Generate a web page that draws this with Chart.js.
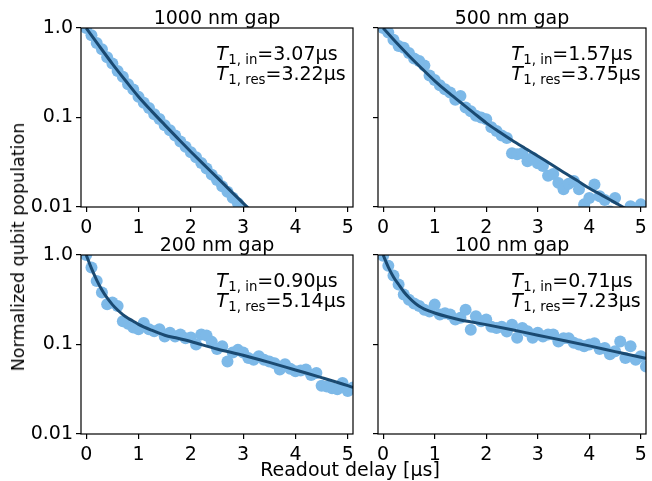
<!DOCTYPE html>
<html>
<head>
<meta charset="utf-8">
<script src="https://cdn.jsdelivr.net/npm/chart.js@4.4.1/dist/chart.umd.min.js"></script>
<style>
  body { margin: 0; background: #fff; }
  #wrap { position: relative; width: 652px; height: 481px; font-family: 'DejaVu Sans'; }
  canvas { position: absolute; left: 0; top: 0; }
  .lab { position: absolute; font-size: 19px; color: #000; white-space: nowrap; }
  #ylab { left: 18px; top: 247px; font-size: 17.5px; transform: translate(-50%, -50%) rotate(-90deg); }
  #xlab { left: 350px; top: 469px; transform: translate(-50%, -50%); }
</style>
</head>
<body>
<div id="wrap">
  <canvas id="p1" width="652" height="481"></canvas>
  <canvas id="p2" width="652" height="481"></canvas>
  <canvas id="p3" width="652" height="481"></canvas>
  <canvas id="p4" width="652" height="481"></canvas>
  <div class="lab" id="ylab">Normalized qubit population</div>
  <div class="lab" id="xlab">Readout delay [µs]</div>
</div>
<script>
// measured delays (µs)
const delays = [0,0.1,0.2,0.3,0.4,0.5,0.6,0.7,0.8,0.9,1.0,1.1,1.2,1.3,1.4,1.5,1.6,1.7,1.8,1.9,
  2.0,2.1,2.2,2.3,2.4,2.5,2.6,2.7,2.8,2.9,3.0,3.1,3.2,3.3,3.4,3.5,3.6,3.7,3.8,3.9,
  4.0,4.1,4.2,4.3,4.4,4.5,4.6,4.7,4.8,4.9,5.0,5.1];

// measured populations
const pop1000 = [1.0,0.83,0.68,0.58,0.47,0.40,0.33,0.285,0.235,0.205,0.17,0.146,0.128,0.109,0.096,0.082,
  0.072,0.063,0.054,0.047,0.041,0.036,0.031,0.027,0.023,0.020,0.017,0.0148,0.0127,0.0110,0.0094];
const pop500 = [1.0,0.891,0.741,0.631,0.603,0.525,0.457,0.427,0.380,0.295,0.263,0.229,0.2065,0.1905,0.158,0.174,
  0.129,0.1175,0.1047,0.100,0.0955,0.0776,0.0708,0.0631,0.0589,0.0398,0.0389,0.0398,0.0324,0.0355,0.0309,0.0288,
  0.0224,0.0234,0.0186,0.0158,0.0182,0.0195,0.0158,0.0107,0.0126,0.0178,0.0132,0.0120,0.0089,0.0126,0.0083,0.0079,
  0.0102,0.0071,0.0107,0.0079];
const pop200 = [1.0,0.724,0.513,0.380,0.282,0.295,0.269,0.182,0.170,0.155,0.148,0.174,0.148,0.141,0.148,0.123,
  0.135,0.123,0.129,0.1175,0.120,0.100,0.129,0.126,0.107,0.0891,0.0955,0.0646,0.0813,0.0871,0.0813,0.0708,
  0.0676,0.0741,0.0676,0.0646,0.0617,0.0525,0.0603,0.0537,0.0501,0.0513,0.0525,0.0457,0.0479,0.0347,0.0339,0.0324,
  0.0316,0.0372,0.0302,0.0331];
const pop100 = [0.98,0.759,0.589,0.468,0.363,0.316,0.288,0.269,0.245,0.234,0.279,0.216,0.224,0.216,0.1905,0.1995,
  0.245,0.146,0.2065,0.182,0.1905,0.158,0.153,0.158,0.140,0.166,0.119,0.153,0.141,0.119,0.135,0.123,
  0.129,0.129,0.108,0.1175,0.1175,0.1047,0.100,0.0955,0.100,0.1035,0.0891,0.0912,0.0776,0.0841,0.108,0.0708,
  0.0955,0.0676,0.0741,0.0569];

// fit curves
const fit1Delay = [0,0.25,0.5,0.75,1,1.25,1.5,1.75,2,2.25,2.5,2.75,3,3.25];
const fit1Pop = [1.0,0.627,0.398,0.259,0.1706,0.1178,0.0828,0.0585,0.0415,0.0297,0.0214,0.01535,0.01104,0.0079];
const fit2Delay = [0,0.25,0.5,0.75,1,1.25,1.5,1.75,2,2.25,2.5,2.75,3,3.25,3.5,3.75,4,4.25,4.5,4.75,5,5.1];
const fit2Pop = [1.0,0.692,0.490,0.353,0.257,0.193,0.148,0.1135,0.0871,0.0692,0.0556,0.0454,0.0372,0.0302,
  0.0245,0.0200,0.0162,0.0135,0.0112,0.0093,0.0078,0.0072];
const fit3Delay = [0,0.1,0.2,0.3,0.4,0.5,0.6,0.7,0.8,0.9,1.0,1.25,1.5,1.75,2.0,2.5,3.0,3.5,4.0,4.5,5.0,5.1];
const fit3Pop = [1.0,0.708,0.525,0.407,0.331,0.279,0.2427,0.216,0.197,0.182,0.168,0.1445,0.127,0.1175,0.108,
  0.0891,0.0759,0.0631,0.0519,0.0427,0.0347,0.0331];
const fit4Delay = [0,0.1,0.2,0.3,0.4,0.5,0.6,0.7,0.8,0.9,1.0,1.25,1.5,1.75,2.0,2.5,3.0,3.5,4.0,4.5,5.0,5.1];
const fit4Pop = [1.0,0.733,0.569,0.468,0.389,0.335,0.295,0.267,0.249,0.236,0.225,0.204,0.188,0.177,0.1667,
  0.146,0.127,0.111,0.0966,0.0832,0.0719,0.070];

const panelTitles = ['1000 nm gap', '500 nm gap', '200 nm gap', '100 nm gap'];
const t1In = ['3.07', '1.57', '0.90', '0.71'];
const t1Res = ['3.22', '3.75', '5.14', '7.23'];
const xTicks = [0, 1, 2, 3, 4, 5];
const yTicks = [0.01, 0.1, 1];
const yTickLabels = ['0.01', '0.1', '1.0'];

const FONT = 'DejaVu Sans';
Chart.defaults.font.family = FONT;
Chart.defaults.font.size = 19;
Chart.defaults.color = '#000';

const Y_AXIS_W = 60;
const X_AXIS_H = 40;

function drawT1(ctx, x, y, sub, val) {
  ctx.font = 'italic 19px "' + FONT + '"';
  ctx.fillText('T', x, y);
  x += ctx.measureText('T').width + 0.5;
  ctx.font = '13.3px "' + FONT + '"';
  ctx.fillText('1, ' + sub, x, y + 3.5);
  x += ctx.measureText('1, ' + sub).width;
  ctx.font = '19px "' + FONT + '"';
  ctx.fillText('=' + val + 'µs', x, y);
}

const panelDecor = {
  id: 'panelDecor',
  afterDatasetsDraw(chart, args, opts) {
    const ctx = chart.ctx;
    const a = chart.chartArea;
    ctx.save();
    ctx.strokeStyle = '#000';
    ctx.lineWidth = 1.2;
    ctx.strokeRect(a.left, a.top, a.right - a.left, a.bottom - a.top);
    ctx.fillStyle = '#000';
    ctx.textBaseline = 'alphabetic';
    ctx.textAlign = 'center';
    ctx.font = '19px "' + FONT + '"';
    ctx.fillText(opts.title, (a.left + a.right) / 2, a.top - 4);
    ctx.textAlign = 'left';
    const tx = a.left + 0.497 * (a.right - a.left);
    drawT1(ctx, tx, a.top + 32, 'in', opts.tin);
    drawT1(ctx, tx, a.top + 52, 'res', opts.tres);
    ctx.restore();
  }
};

function toPoints(xs, ys) {
  return ys.map((y, i) => ({ x: xs[i], y: y }));
}

// box = plot area [left, top, right, bottom] in page pixels
function makePanel(id, idx, pops, fitX, fitY, box, showY) {
  const pad = {
    left: box[0] - Y_AXIS_W,
    top: box[1],
    right: 652 - box[2],
    bottom: 481 - box[3] - X_AXIS_H
  };
  new Chart(document.getElementById(id), {
    type: 'scatter',
    data: {
      datasets: [
        {
          type: 'line',
          data: toPoints(fitX, fitY),
          borderColor: '#1a4a72',
          borderWidth: 3,
          pointRadius: 0,
          cubicInterpolationMode: 'monotone',
          fill: false,
          order: 0
        },
        {
          data: toPoints(delays, pops),
          backgroundColor: '#7db9e8',
          borderWidth: 0,
          pointRadius: 6,
          order: 1
        }
      ]
    },
    options: {
      responsive: false,
      animation: false,
      layout: { padding: pad },
      plugins: {
        legend: { display: false },
        tooltip: { enabled: false },
        panelDecor: { title: panelTitles[idx], tin: t1In[idx], tres: t1Res[idx] }
      },
      scales: {
        x: {
          type: 'linear',
          min: -0.1,
          max: 5.1,
          afterBuildTicks: s => { s.ticks = xTicks.map(v => ({ value: v })); },
          afterFit: s => { s.height = X_AXIS_H; },
          ticks: { padding: 5, maxRotation: 0, autoSkip: false, callback: v => String(v) },
          grid: { drawOnChartArea: false, drawTicks: true, tickLength: 5, color: '#000', lineWidth: 1.2 },
          border: { display: false }
        },
        y: {
          type: 'logarithmic',
          min: 0.01,
          max: 1,
          afterBuildTicks: s => { s.ticks = yTicks.map(v => ({ value: v, major: true })); },
          afterFit: s => { s.width = Y_AXIS_W; },
          ticks: { display: showY, padding: 3, callback: (v, i) => yTickLabels[i] },
          grid: { drawOnChartArea: false, drawTicks: true, tickLength: 5, color: '#000', lineWidth: 1.2 },
          border: { display: false }
        }
      }
    },
    plugins: [panelDecor]
  });
}

makePanel('p1', 0, pop1000, fit1Delay, fit1Pop, [81, 28, 353, 207], true);
makePanel('p2', 1, pop500, fit2Delay, fit2Pop, [378, 28, 651, 207], false);
makePanel('p3', 2, pop200, fit3Delay, fit3Pop, [81, 255, 353, 434], true);
makePanel('p4', 3, pop100, fit4Delay, fit4Pop, [378, 255, 651, 434], false);
</script>
</body>
</html>
